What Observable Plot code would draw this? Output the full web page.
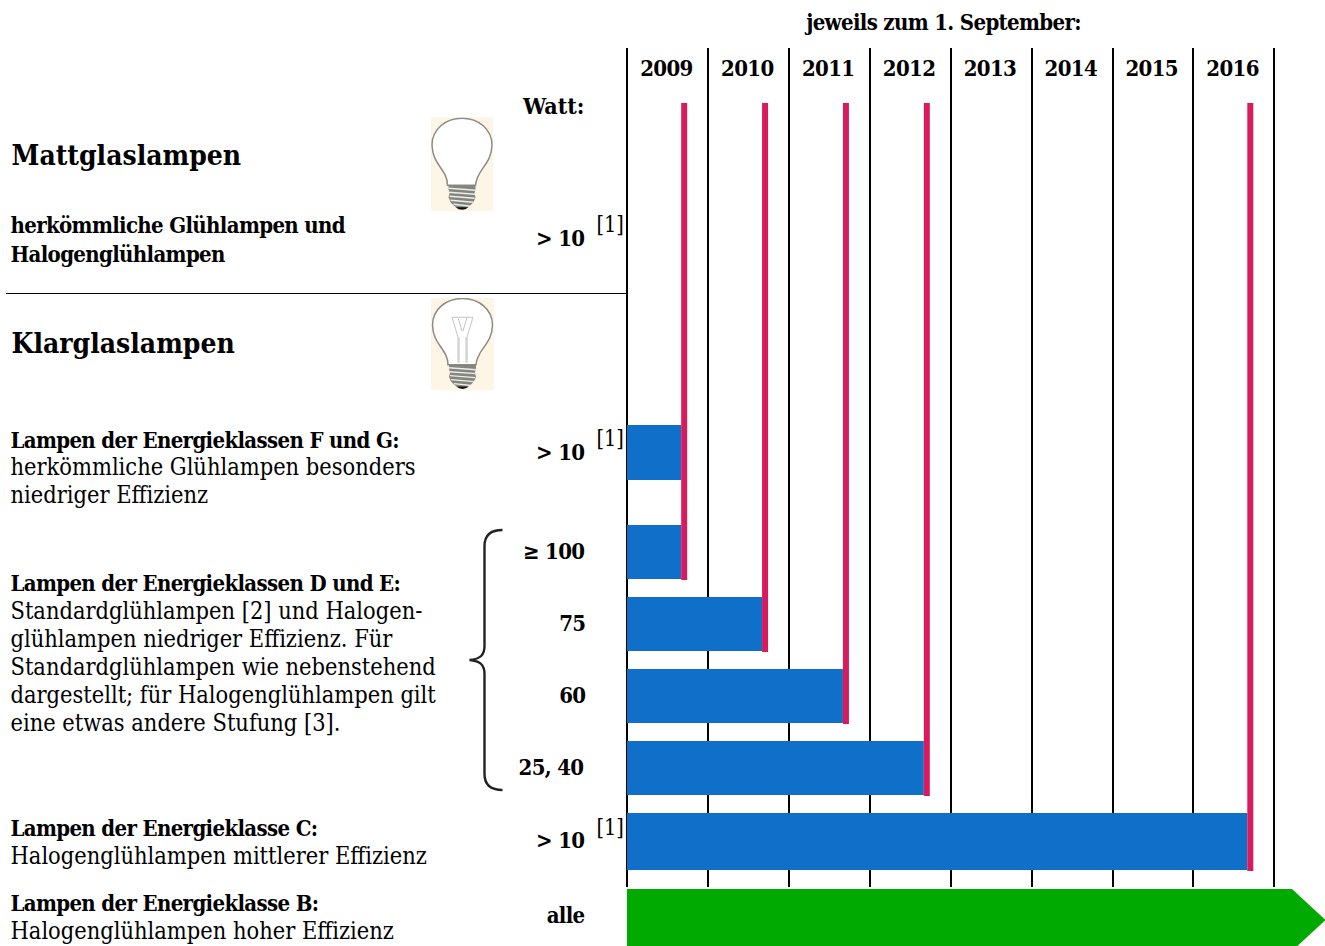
<!DOCTYPE html>
<html lang="de">
<head>
<meta charset="utf-8">
<script src="https://cdn.jsdelivr.net/npm/d3@7"></script>
<script src="https://cdn.jsdelivr.net/npm/@observablehq/plot@0.6"></script>
<style>html,body{margin:0;padding:0;background:#fff;overflow:hidden}svg{display:block}</style>
</head>
<body>
<div id="chart"></div>
<script>
// ---- data ----
const years = [2009, 2010, 2011, 2012, 2013, 2014, 2015, 2016];
const gridYears = [2009, 2010, 2011, 2012, 2013, 2014, 2015, 2016, 2017];
const wattRows = ["> 10", "> 10", "≥ 100", "75", "60", "25, 40", "> 10", "alle"];
const phaseOutEnds = [2009.67, 2009.67, 2010.67, 2011.67, 2012.67, 2016.67];
const deadlines = [2009.67, 2010.67, 2011.67, 2012.67, 2016.67];

// ---- layout ----
const F = '"DejaVu Serif Condensed","DejaVu Serif",serif';
const x0 = 627, pxPerYear = 80.875;
const yearAt = px => 2009 + (px - x0) / pxPerYear;
const barTop = [425, 525, 597, 669, 741, 813];
const barBottom = [480, 579, 651, 723, 795, 870];
const deadlineBottom = [580, 652, 724, 796, 871];

const bars = phaseOutEnds.map((end, i) => ({end, top: barTop[i], bottom: barBottom[i]}));
const dead = deadlines.map((year, i) => ({year, bottom: deadlineBottom[i]}));
const arrow = [
  {x: 2009, y1: 889, y2: 951},
  {x: yearAt(1292), y1: 889, y2: 951},
  {x: yearAt(1325.5), y1: 920, y2: 920}
];

const svgUri = s => "data:image/svg+xml;utf8," + encodeURIComponent(s);
const base = `<path d="M18 68 H45 V72 L44 76 L45 80 L43 85 L39 89 Q31 94 24 89 L20 85 L18 80 L19 76 L18 72 Z" fill="#858580"/>
<path d="M18 71 L45 73 M18 75 L45 77 M19 79 L44 81 M20 83 L43 85 M23 87 L40 89" stroke="#ecece8" stroke-width="1.400"/>
<path d="M25 90 Q31.500 95 38 90 Z" fill="#111"/>`;
const glass = `<path d="M17 68 C17 52 2 48 1.500 28 C1.500 12 15 1 31.500 1 C48 1 61.500 12 61.500 28 C61 48 46 52 45 68 Z" fill="#fff" stroke="#8f8b80" stroke-width="1.500"/>`;
const bulbMatt = svgUri(`<svg xmlns="http://www.w3.org/2000/svg" viewBox="0 0 63 94" width="63" height="94" preserveAspectRatio="none"><rect width="63" height="94" fill="#fdf5e6"/>${glass}${base}</svg>`);
const bulbClear = svgUri(`<svg xmlns="http://www.w3.org/2000/svg" viewBox="0 0 63 94" width="63" height="94" preserveAspectRatio="none"><rect width="63" height="94" fill="#fdf5e6"/>${glass}
<path d="M21 20 L27 40 V66 M42 20 L36 40 V66 M27 20 L31 34 M36 20 L32 34 M21 20 H27 M36 20 H42 M28 20 L36 20 M28 40 V66 M35 40 V66" fill="none" stroke="#c4c4c4" stroke-width="1"/>${base}</svg>`);
const brace = svgUri(`<svg xmlns="http://www.w3.org/2000/svg" viewBox="0 0 36 264" width="36" height="264"><path d="M34 2 C22 2 16 7 16 18 V118 C16 127 12 131 1 132 C12 133 16 137 16 146 V246 C16 257 22 262 34 262" fill="none" stroke="#222" stroke-width="2.400"/></svg>`);

const label = (text, px, py, size, weight = "bold", anchor = "start") =>
  Plot.text([text], {
    text: d => d, frameAnchor: "top-left", dx: px, dy: py, fontSize: size,
    fontWeight: weight, textAnchor: anchor, lineAnchor: "middle", fontFamily: F, fill: "#000"
  });
const img = (uri, cx, cy, w, h) =>
  Plot.image([uri], {src: d => d, x: yearAt(cx), y: cy, width: w, height: h, preserveAspectRatio: "none"});

const B = 22, R = 23.4, H = 28;
const chart = Plot.plot({
  width: 1325, height: 946, margin: 0,
  style: {background: "#fff"},
  x: {axis: null, domain: [2009, 2017], range: [x0, 1274]},
  y: {axis: null, domain: [0, 946], range: [0, 946]},
  marks: [
    Plot.ruleX(gridYears, {x: d => yearAt(Math.round(x0 + (d - 2009) * pxPerYear + 0.3)), y1: 48, y2: 887, stroke: "#000", strokeWidth: 2, dx: -0.5}),
    Plot.ruleY([293], {x1: yearAt(6), x2: 2009, stroke: "#000", strokeWidth: 1}),
    Plot.areaY(arrow, {x: "x", y1: "y1", y2: "y2", fill: "#00aa00"}),
    Plot.rect(bars, {x1: 2009, x2: "end", y1: "top", y2: "bottom", fill: "#0f6fc9", inset: 0}),
    Plot.ruleX(dead, {x: "year", y1: 103, y2: "bottom", stroke: "#d81b5c", strokeWidth: 6, dx: 2.5}),
    Plot.text(years, {x: d => d + 0.5, y: 68, dx: -1.5, text: d => String(d), fontFamily: F, fontWeight: "bold", fontSize: B, fill: "#000"}),
    img(bulbMatt, 461.5, 163.7, 63, 94),
    img(bulbClear, 462, 343.5, 63, 93),
    img(brace, 486, 659.5, 36, 264),

    label("jeweils zum 1. September:", 943, 22, B, "bold", "middle"),
    label("Watt:", 584, 106, 23, "bold", "end"),
    label(wattRows[0], 584, 238, B, "bold", "end"),
    label(wattRows[1], 584, 452, B, "bold", "end"),
    label(wattRows[2], 584, 551, B, "bold", "end"),
    label(wattRows[3], 585, 623, B, "bold", "end"),
    label(wattRows[4], 585, 695, B, "bold", "end"),
    label(wattRows[5], 583, 767, B, "bold", "end"),
    label(wattRows[6], 584, 840, B, "bold", "end"),
    label(wattRows[7], 584, 915, B, "bold", "end"),
    label("[1]", 596, 225, 21.5, "normal"),
    label("[1]", 596, 439, 21.5, "normal"),
    label("[1]", 596, 828, 21.5, "normal"),

    label("Mattglaslampen", 11, 156, H, "bold"),
    label("herkömmliche Glühlampen und", 10, 225, B, "bold"),
    label("Halogenglühlampen", 10, 254, B, "bold"),
    label("Klarglaslampen", 11, 344, H, "bold"),
    label("Lampen der Energieklassen F und G:", 10, 440, B, "bold"),
    label("herkömmliche Glühlampen besonders", 10, 467, R, "normal"),
    label("niedriger Effizienz", 10, 495, R, "normal"),
    label("Lampen der Energieklassen D und E:", 10, 583, B, "bold"),
    label("Standardglühlampen [2] und Halogen-", 10, 611, R, "normal"),
    label("glühlampen niedriger Effizienz. Für", 10, 639, R, "normal"),
    label("Standardglühlampen wie nebenstehend", 10, 667, R, "normal"),
    label("dargestellt; für Halogenglühlampen gilt", 10, 695, R, "normal"),
    label("eine etwas andere Stufung [3].", 10, 723, R, "normal"),
    label("Lampen der Energieklasse C:", 10, 828, B, "bold"),
    label("Halogenglühlampen mittlerer Effizienz", 10, 856, R, "normal"),
    label("Lampen der Energieklasse B:", 10, 903, B, "bold"),
    label("Halogenglühlampen hoher Effizienz", 10, 931, R, "normal")
  ]
});
chart.querySelectorAll('g[font-weight="bold"][font-size="22"]').forEach(g => { g.style.letterSpacing = "-0.65px"; });
document.getElementById("chart").append(chart);
</script>
</body>
</html>
